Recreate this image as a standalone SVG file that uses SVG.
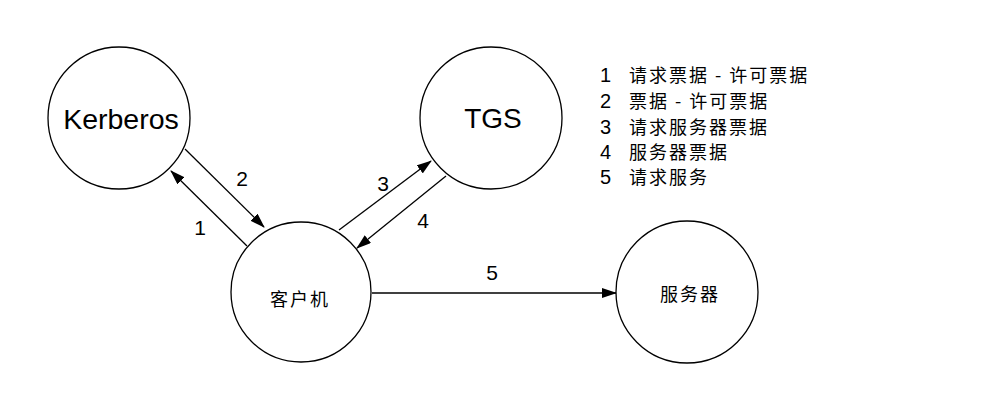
<svg xmlns="http://www.w3.org/2000/svg" width="995" height="405" viewBox="0 0 995 405">
<style>
.node{fill:#fff;stroke:#000;stroke-width:1.3}
.lat{font-family:"Liberation Sans",Arial,sans-serif;fill:#000}
.cjk{font-family:"Noto Sans CJK SC",sans-serif;fill:#000;font-size:18px;letter-spacing:2px}
.edge{stroke:#000;stroke-width:1.3;fill:none}
.num{font-family:"Liberation Sans",Arial,sans-serif;font-size:21px;fill:#000;text-anchor:middle}
</style>
<defs>
<marker id="ah" markerUnits="userSpaceOnUse" markerWidth="15" markerHeight="10" refX="14" refY="5" orient="auto">
<path d="M0,0 L15,5 L0,10 z" fill="#000"/>
</marker>
</defs>
<rect width="995" height="405" fill="#fff"/>
<g id="connectors">
<line class="edge" x1="247" y1="246" x2="171" y2="171" marker-end="url(#ah)"/>
<line class="edge" x1="185" y1="149" x2="264" y2="227" marker-end="url(#ah)"/>
<line class="edge" x1="339" y1="230" x2="431" y2="161" marker-end="url(#ah)"/>
<line class="edge" x1="446" y1="176" x2="357" y2="248" marker-end="url(#ah)"/>
<line class="edge" x1="372" y1="293" x2="616" y2="293" marker-end="url(#ah)"/>
<text class="num" x="200" y="235">1</text>
<text class="num" x="242" y="186">2</text>
<text class="num" x="383" y="191">3</text>
<text class="num" x="423" y="228">4</text>
<text class="num" x="492" y="280">5</text>
</g>
<g id="kerberos">
<circle class="node" cx="119" cy="118" r="71"/>
<text class="lat" x="121" y="129" font-size="28.5" text-anchor="middle">Kerberos</text>
</g>
<g id="tgs">
<circle class="node" cx="491" cy="118" r="71"/>
<text class="lat" x="493" y="128" font-size="28" text-anchor="middle">TGS</text>
</g>
<g id="client">
<circle class="node" cx="301" cy="292" r="70"/>
<text class="cjk" x="270" y="306">客户机</text>
</g>
<g id="server">
<circle class="node" cx="687" cy="292" r="71"/>
<text class="cjk" x="660" y="301">服务器</text>
</g>
<g id="legend">
<text class="lat" font-size="20" x="600" y="82">1</text>
<text class="cjk" x="629" y="82">请求票据 - 许可票据</text>
<text class="lat" font-size="20" x="600" y="108">2</text>
<text class="cjk" x="629" y="108">票据 - 许可票据</text>
<text class="lat" font-size="20" x="600" y="134">3</text>
<text class="cjk" x="629" y="134">请求服务器票据</text>
<text class="lat" font-size="20" x="600" y="159">4</text>
<text class="cjk" x="629" y="159">服务器票据</text>
<text class="lat" font-size="20" x="600" y="184">5</text>
<text class="cjk" x="629" y="184">请求服务</text>
</g>
</svg>
